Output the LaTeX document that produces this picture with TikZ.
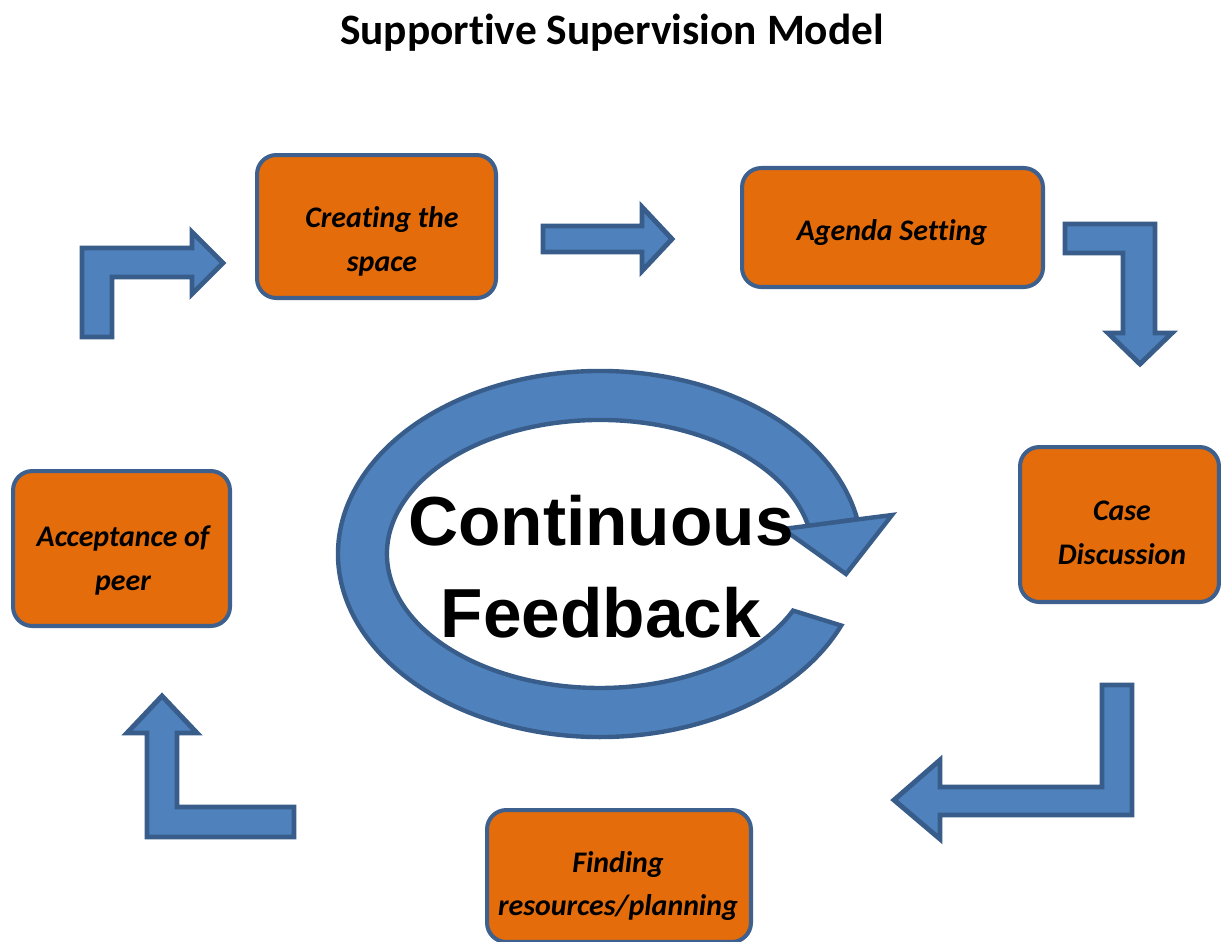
\documentclass[tikz,border=0pt]{standalone}
\usepackage{fontspec}
\setmainfont{Carlito}[Ligatures=NoCommon]
\newfontfamily\roundfont{Liberation Sans}
\usepackage{tikz}
\usetikzlibrary{positioning}
\definecolor{StepOrange}{RGB}{228,108,10}
\definecolor{StepEdge}{RGB}{62,96,142}
\definecolor{ArrowFill}{RGB}{79,129,189}
\definecolor{ArrowEdge}{RGB}{56,93,138}
\tikzset{StepBox/.style={%
    shape=rectangle,%
    draw=StepEdge,%
    fill=StepOrange,%
    line width=2.3pt,%
    rounded corners=11pt,%
    inner sep=0pt,%
}}
\tikzset{StepText/.style={%
    align=center,%
    inner sep=0pt,%
    font=\fontsize{17}{25}\selectfont\bfseries\itshape,%
}}
\tikzset{BlockArrow/.style={%
    draw=ArrowEdge,%
    fill=ArrowFill,%
    line width=2.8pt,%
    line join=miter,%
}}
\tikzset{TitleText/.style={%
    font=\fontsize{24.7}{30}\selectfont\bfseries,%
}}
\tikzset{LoopText/.style={%
    align=center,%
    inner sep=0pt,%
    font=\roundfont\bfseries\fontsize{39.5}{52.5}\selectfont,%
}}

\begin{document}
\begin{tikzpicture}[x=0.02cm, y=0.02cm, yscale=-1]
    \useasboundingbox (0,0) rectangle (1221,941);
    \clip (0,0) rectangle (1221,941);

    \node[TitleText] (title) at (612,33) {Supportive Supervision Model};

    % the five steps
    \node[StepBox, minimum width=4.78cm, minimum height=2.86cm] (space) at (376.5,226.5) {};
    \node[StepBox, minimum width=6.02cm, minimum height=2.38cm] (agenda) at (892.5,227.5) {};
    \node[StepBox, minimum width=3.98cm, minimum height=3.10cm] (case) at (1119.5,524.5) {};
    \node[StepBox, minimum width=5.28cm, minimum height=2.64cm] (finding) at (619,876) {};
    \node[StepBox, minimum width=4.34cm, minimum height=3.10cm] (accept) at (121.5,548.5) {};

    \node[StepText] (spaceText) at (382,241) {Creating the\\space};
    \node[StepText] (agendaText) at (892,233) {Agenda Setting};
    \node[StepText] (caseText) at (1122,533) {Case\\Discussion};
    \node[StepText] (findingText) at (618,886) {Finding\\resources/planning};
    \node[StepText] (acceptText) at (123,560) {Acceptance of\\peer};

    % block arrows between the steps
    \draw[BlockArrow] (82,337) -- (82,248) -- (192,248) -- (192,232) -- (223,263)
        -- (192,294) -- (192,277) -- (112,277) -- (112,337) -- cycle;
    \draw[BlockArrow] (543,226) -- (642,226) -- (642,207) -- (672,239)
        -- (642,271) -- (642,252) -- (543,252) -- cycle;
    \draw[BlockArrow] (1065,224) -- (1155,224) -- (1155,333) -- (1172,333) -- (1140,364)
        -- (1108,333) -- (1123,333) -- (1123,253) -- (1065,253) -- cycle;
    \draw[BlockArrow] (1132,685) -- (1132,815) -- (940,815) -- (940,839) -- (894,800)
        -- (940,760) -- (940,787) -- (1102,787) -- (1102,685) -- cycle;
    \draw[BlockArrow] (294,837) -- (147,837) -- (147,733) -- (127,733) -- (162,696)
        -- (197,733) -- (177,733) -- (177,807) -- (294,807) -- cycle;

    % feedback loop
    \draw[BlockArrow, line width=2.5pt] (841.2,625.5)
        arc[start angle=23, end angle=349, x radius=262, y radius=183]
        -- (808.3,526.1)
        arc[start angle=348, end angle=25, x radius=213, y radius=134] -- cycle;
    \draw[BlockArrow, line width=2.5pt] (783,529) -- (892,515) -- (846,574) -- cycle;

    \node[LoopText] (feedback) at (601,567) {Continuous\\Feedback};
\end{tikzpicture}
\end{document}
